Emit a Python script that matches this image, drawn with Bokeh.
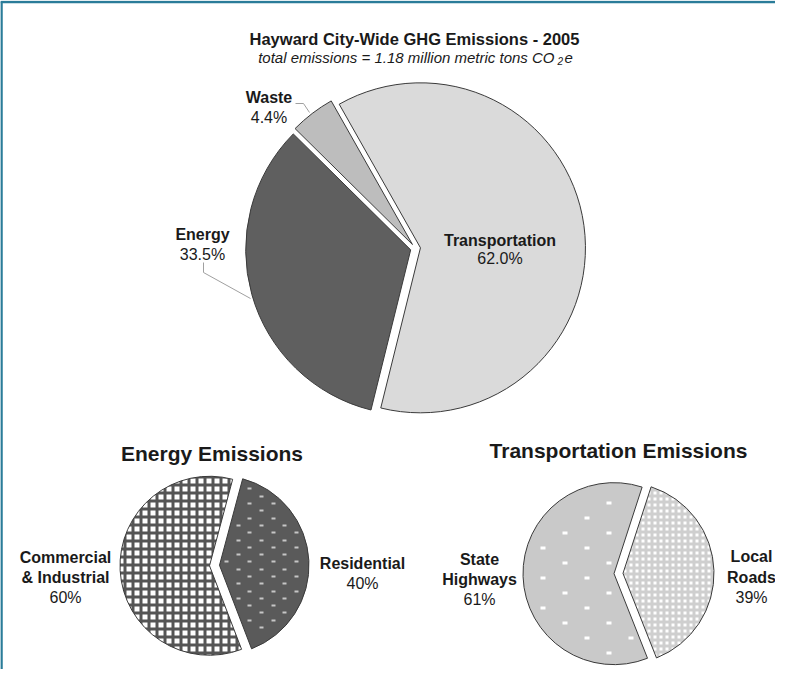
import math
from bokeh.plotting import figure
from bokeh.models import Range1d
from bokeh.core.properties import value
from bokeh.embed import file_html
from bokeh.resources import INLINE

# ---------------- data ----------------
title_text = "Hayward City-Wide GHG Emissions - 2005"
subtitle_text = "total emissions = 1.18 million metric tons CO"
subtitle_sub = "2"
subtitle_end = "e"

main_names = [["Transportation"], ["Energy"], ["Waste"]]
main_values = [62.0, 33.5, 4.4]

energy_title = "Energy Emissions"
energy_names = [["Residential"], ["Commercial", "& Industrial"]]
energy_values = [40, 60]

transport_title = "Transportation Emissions"
transport_names = [["Local", "Roads"], ["State", "Highways"]]
transport_values = [39, 61]

# ---------------- layout ----------------
W, H = 775, 669
OX, OY = 8, 8
FONT = value("Liberation Sans")
TXT = "#1a1a1a"
EDGE = "#3a3a3a"


def Y(sy):
    return -sy


p = figure(width=W, height=H, x_range=Range1d(OX, OX + W), y_range=Range1d(-(OY + H), -OY),
           output_backend="svg", toolbar_location=None,
           x_axis_location=None, y_axis_location=None, min_border=0)
p.grid.visible = False
p.outline_line_color = None
p.background_fill_color = "white"
p.border_fill_color = "white"


def pie(cx, cy, r, start_deg, values, explode, styles):
    """Draw an exploded pie clockwise from start_deg; returns slice geometry."""
    total = float(sum(values))
    a = start_deg
    geo = []
    for v, st in zip(values, styles):
        span = 360.0 * v / total
        end = a
        start = a - span
        mid = math.radians((start + end) / 2)
        ox = cx + explode * math.cos(mid)
        oy = cy - explode * math.sin(mid)          # screen y (down)
        kw = dict(fill_color=st["fill"], line_color=EDGE, line_width=1)
        if "hatch" in st:
            kw.update(hatch_pattern=st["hatch"], hatch_color=st["hcolor"],
                      hatch_scale=st["hscale"], hatch_weight=st.get("hweight", 1))
        p.wedge(x=[ox], y=[Y(oy)], radius=r, start_angle=math.radians(start),
                end_angle=math.radians(end), **kw)
        geo.append((ox, oy, r, start, end))
        a = start
    return geo


def dot_texture(g, dx, dy, stagger, w, h, color, margin):
    """Small rectangular dots filling one slice (texture of the slice)."""
    ox, oy, r, start, end = g
    span = end - start
    xs, ys = [], []
    j0 = int(math.floor((oy - r) / dy)) - 1
    j1 = int(math.ceil((oy + r) / dy)) + 1
    for j in range(j0, j1 + 1):
        y = j * dy
        off = (j % 2) * dx / 2 if stagger else 0.0
        i0 = int(math.floor((ox - r) / dx)) - 2
        i1 = int(math.ceil((ox + r) / dx)) + 2
        for i in range(i0, i1 + 1):
            x = i * dx + off
            vx, vy = x - ox, -(y - oy)
            d = math.hypot(vx, vy)
            if d > r - margin - w / 2:
                continue
            ang = math.degrees(math.atan2(vy, vx))
            a = (ang - start) % 360.0
            if a > span:
                continue
            m = min(a, span - a)
            if m < 90 and d * math.sin(math.radians(m)) < margin + w / 2:
                continue
            xs.append(round(x) + (0.5 if w % 2 else 0))
            ys.append(Y(round(y) + (0.5 if h % 2 else 0)))
    p.rect(x=xs, y=ys, width=w, height=h, fill_color=color, line_color=None)


# main pie
pie(423, 256, 165, 119.5, main_values, 5,
    [{"fill": "#dadada"}, {"fill": "#5f5f5f"}, {"fill": "#bdbdbd"}])

# energy pie
eg = pie(222, 573, 89.5, 75, energy_values, 5,
         [{"fill": "#5a5a5a"},
          {"fill": "#ffffff", "hatch": "cross", "hcolor": "#555555", "hscale": 8, "hweight": 3}])
dot_texture(eg[0], 23.4, 7.3, True, 4, 2, "#c6c6c6", 2.5)

# transport pie
tg = pie(626, 581, 91, 72, transport_values, 4.5,
         [{"fill": "#ffffff", "hatch": "cross", "hcolor": "#cfcfcf", "hscale": 6, "hweight": 3},
          {"fill": "#c9c9c9"}])
dot_texture(tg[1], 44, 15, True, 5, 3, "#ffffff", 3)

# leader lines
p.line(x=[303, 311, 317], y=[Y(111), Y(111), Y(120)], line_color="#a0a0a0", line_width=1)
p.line(x=[211, 211, 258], y=[Y(270), Y(280), Y(306)], line_color="#a0a0a0", line_width=1)

# frame (teal)
p.line(x=[OX, OX + W], y=[Y(9.5), Y(9.5)], line_color="#2a7c99", line_width=2.5)
p.line(x=[9, 9], y=[Y(9), Y(OY + H)], line_color="#2a7c99", line_width=2.5)


def label(x, y, text, size="16px", style="normal", align="center"):
    p.text(x=[x], y=[Y(y)], text=[text], text_font=FONT, text_font_size=size,
           text_font_style=style, text_align=align, text_baseline="alphabetic",
           text_color=TXT)


# titles
label(422, 46, title_text, "16.5px", "bold")
label(562, 65, subtitle_text, "15px", "italic", "right")
label(565, 68.5, subtitle_sub, "10px", "italic", "left")
label(572, 65, subtitle_end, "15px", "italic", "left")
label(219.5, 461, energy_title, "21px", "bold")
label(626, 458, transport_title, "21px", "bold")


def slice_labels(names, values, positions, fmt):
    for lines, v, (x, y0, gap) in zip(names, values, positions):
        yy = y0
        for ln in lines:
            label(x, yy, ln, "16px", "bold")
            yy += gap
        label(x, yy, fmt.format(v), "16px", "normal")


slice_labels(main_names, main_values,
             [(507.5, 248, 18), (210, 242, 20), (276.5, 105, 20)], "{:.1f}%")
slice_labels(energy_names, energy_values,
             [(370, 571, 20), (73, 565, 20)], "{:.0f}%")
slice_labels(transport_names, transport_values,
             [(759, 564, 20.5), (487, 567, 20)], "{:.0f}%")

open("out.html", "w").write(file_html(p, INLINE))
